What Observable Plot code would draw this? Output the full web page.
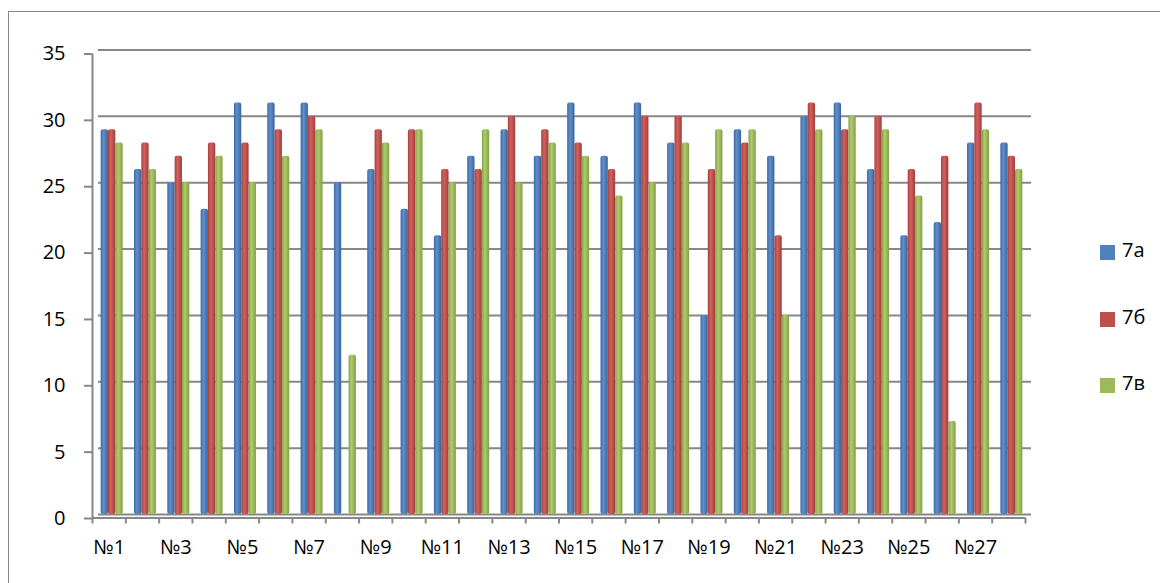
<!DOCTYPE html>
<html>
<head>
<meta charset="utf-8">
<script src="https://cdn.jsdelivr.net/npm/d3@7"></script>
<script src="https://cdn.jsdelivr.net/npm/@observablehq/plot@0.6"></script>
<style>
  html, body { margin: 0; padding: 0; background: #fff; }
  #wrap { position: relative; width: 1160px; height: 583px; overflow: hidden; font-family: "Open Sans", "Noto Sans", sans-serif; }
  #border { position: absolute; left: 8px; top: 11px; width: 1200px; height: 700px; border: 1.5px solid #8a8a8a; box-sizing: border-box; }
  #chart { position: absolute; left: 0; top: 0; }
  #legend { position: absolute; left: 1100px; top: 241px; }
  .item { position: relative; height: 66.5px; }
  .sw { position: absolute; left: 0; top: 4px; width: 15px; height: 15px; }
  .lb { position: absolute; left: 22px; top: -5px; font-size: 20px; color: #000; white-space: nowrap; }
</style>
</head>
<body>
<div id="wrap">
  <div id="border"></div>
  <div id="chart"></div>
  <div id="legend"></div>
</div>
<script>
const categories = ["№1","№2","№3","№4","№5","№6","№7","№8","№9","№10","№11","№12","№13","№14",
                    "№15","№16","№17","№18","№19","№20","№21","№22","№23","№24","№25","№26","№27","№28"];
const series = ["7а", "7б", "7в"];
const values7a = [29,26,25,23,31,31,31,25,26,23,21,27,29,27,31,27,31,28,15,29,27,30,31,26,21,22,28,28];
const values7b = [29,28,27,28,28,29,30, 0,29,29,26,26,30,29,28,26,30,30,26,28,21,31,29,30,26,27,31,27];
const values7v = [28,26,25,27,25,27,29,12,28,29,25,29,25,28,27,24,25,28,29,29,15,29,30,29,24, 7,29,26];
const yTicks = [0, 5, 10, 15, 20, 25, 30, 35];
const xLabelTicks = [1, 3, 5, 7, 9, 11, 13, 15, 17, 19, 21, 23, 25, 27];
const colors = ["#4F81BD", "#C0504D", "#9BBB59"];

const seriesValues = [values7a, values7b, values7v];
const rows = categories.flatMap((c, i) => series.map((s, j) => ({cat: c, k: i + 1, s: j, series: s, value: seriesValues[j][i]})));
const boundaries = d3.range(0, categories.length + 1).map(i => i + 0.5);

const plot = Plot.plot({
  width: 1160,
  height: 583,
  marginLeft: 92,
  marginRight: 135,
  marginTop: 49.5,
  marginBottom: 69,
  style: {fontFamily: "'Open Sans', 'Noto Sans', sans-serif", fontSize: "20px", color: "#000", background: "transparent"},
  x: {type: "linear", domain: [0.5, categories.length + 0.5]},
  y: {domain: [0, 35]},
  color: {domain: series, range: ["url(#g0)", "url(#g1)", "url(#g2)"]},
  marks: [
    Plot.ruleY(yTicks, {x1: 0.5, x2: categories.length + 0.5, dx: 6, stroke: "#878787", strokeWidth: 2}),
    Plot.ruleY([0], {x1: 0.5, x2: categories.length + 0.5, dy: 3.5, stroke: "#878787", strokeWidth: 2}),
    Plot.ruleX([0.5], {y1: 0, y2: 35, dy: 4, stroke: "#878787", strokeWidth: 2}),
    Plot.rectY(rows, {
      x1: d => d.k - 0.33 + d.s * 0.22,
      x2: d => d.k - 0.11 + d.s * 0.22,
      y: "value",
      fill: "series",
      dx: 3,
      ry: 2
    }),
    Plot.axisY({ticks: yTicks, tickSize: 8, tickPadding: 19, dy: 4, stroke: "#878787", strokeWidth: 2, fontSize: 20, label: null}),
    Plot.axisX({ticks: boundaries, tickSize: 6, dy: 3.5, tickFormat: () => "", stroke: "#878787", strokeWidth: 2, label: null}),
    Plot.axisX({ticks: xLabelTicks, tickSize: 0, tickPadding: 25, tickFormat: d => categories[d - 1], fontSize: 20, label: null})
  ]
});

plot.insertAdjacentHTML("afterbegin", `
<defs>
  <linearGradient id="g0" x1="0" x2="1" y1="0" y2="0">
    <stop offset="0" stop-color="#3c6aa5"/><stop offset="0.4" stop-color="#5f8fcc"/><stop offset="1" stop-color="#3a659c"/>
  </linearGradient>
  <linearGradient id="g1" x1="0" x2="1" y1="0" y2="0">
    <stop offset="0" stop-color="#a9403c"/><stop offset="0.4" stop-color="#d1625e"/><stop offset="1" stop-color="#a23d39"/>
  </linearGradient>
  <linearGradient id="g2" x1="0" x2="1" y1="0" y2="0">
    <stop offset="0" stop-color="#86a446"/><stop offset="0.4" stop-color="#aecb6e"/><stop offset="1" stop-color="#83a044"/>
  </linearGradient>
</defs>`);
document.getElementById("chart").appendChild(plot);

const legend = document.getElementById("legend");
series.forEach((s, i) => {
  const item = document.createElement("div");
  item.className = "item";
  item.innerHTML = `<div class="sw" style="background:${colors[i]}"></div><div class="lb">${s}</div>`;
  legend.appendChild(item);
});
</script>
</body>
</html>
